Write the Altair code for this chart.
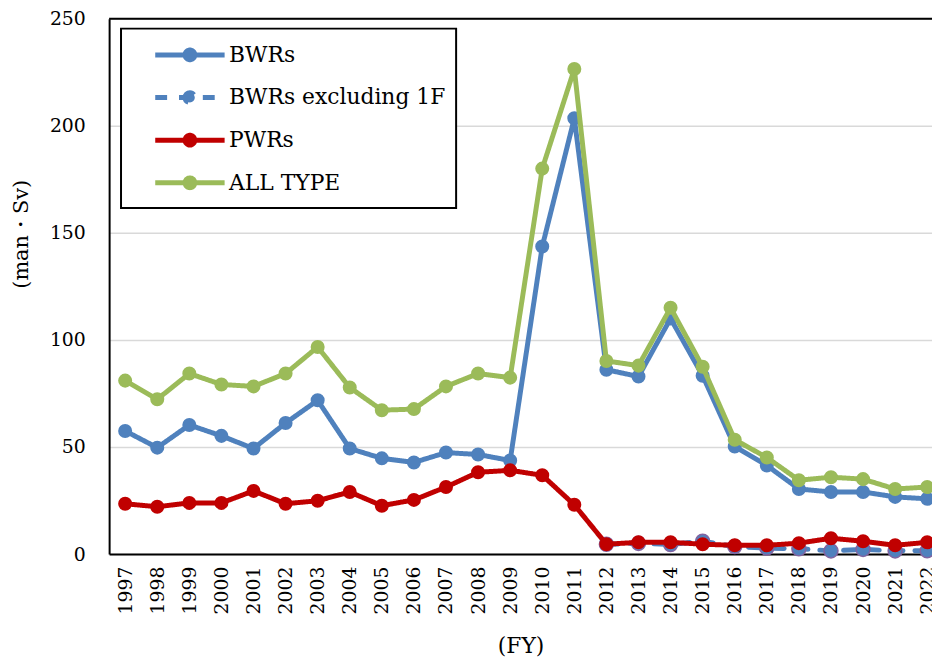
import altair as alt
import pandas as pd

years = list(range(1997, 2023))
bwrs = [57.5, 49.7, 60.3, 55.2, 49.3, 61.2, 71.8, 49.3, 44.7, 42.8, 47.4, 46.5, 43.7,
        143.6, 203.5, 86.1, 82.9, 110.0, 83.3, 50.2, 41.4, 30.4, 29.0, 29.0, 26.7, 25.8]
pwrs = [23.5, 22.1, 23.9, 23.9, 29.5, 23.5, 24.9, 29.0, 22.6, 25.3, 31.3, 38.2, 39.1,
        36.8, 23.0, 4.6, 5.5, 5.5, 4.6, 4.1, 4.1, 5.1, 7.4, 6.0, 4.1, 5.5]
all_type = [81.0, 72.3, 84.3, 79.2, 78.3, 84.3, 96.7, 77.8, 67.2, 67.7, 78.3, 84.3, 82.4,
            180.0, 226.5, 90.2, 88.0, 115.0, 87.5, 53.4, 45.1, 34.5, 35.9, 35.0, 30.4, 31.3]
excl_years = list(range(2012, 2023))
bwrs_excl = [4.6, 5.0, 4.5, 6.0, 3.5, 2.8, 2.5, 1.5, 2.2, 1.5, 1.6]

series_names = ["BWRs", "BWRs excluding 1F", "PWRs", "ALL TYPE"]
colors = ["#4f81bd", "#4f81bd", "#c00000", "#9bbb59"]
dashes = [[1, 0], [12, 12], [1, 0], [1, 0]]
y_ticks = [0, 50, 100, 150, 200, 250]

rows = []
for yr, v in zip(years, bwrs):
    rows.append({"year": yr, "value": v, "series": "BWRs"})
for yr, v in zip(excl_years, bwrs_excl):
    rows.append({"year": yr, "value": v, "series": "BWRs excluding 1F"})
for yr, v in zip(years, pwrs):
    rows.append({"year": yr, "value": v, "series": "PWRs"})
for yr, v in zip(years, all_type):
    rows.append({"year": yr, "value": v, "series": "ALL TYPE"})
df = pd.DataFrame(rows)

FONT = "DejaVu Serif"
W, H = 830, 540
STEP = 32.36

sym_path = ("M-2.5,0L2.5,0"
            "M-0.35,0A0.35,0.35,0,1,1,0.35,0A0.35,0.35,0,1,1,-0.35,0"
            "M-0.12,0A0.12,0.12,0,1,1,0.12,0A0.12,0.12,0,1,1,-0.12,0")

leg = alt.Legend(title=None, orient="none", legendX=12, legendY=10,
                 symbolType=sym_path, symbolSize=784, symbolStrokeWidth=5,
                 labelFont=FONT, labelFontSize=22, labelColor="black",
                 labelOffset=23, symbolOffset=43, rowPadding=11, padding=10,
                 labelExpr="datum.label + '\u2003'",
                 strokeColor="black", fillColor="white", labelLimit=400)

x_enc = alt.X("year:Q",
              scale=alt.Scale(domain=[1996.5, 1996.5 + W / STEP], nice=False, zero=False),
              axis=alt.Axis(values=years, format="d", labelAngle=270, ticks=False,
                            labelPadding=12, grid=False, domainColor="black", domainWidth=2,
                            labelFont=FONT, labelFontSize=19, labelColor="black",
                            labelOverlap=False, labelBound=False, labelFlush=False,
                            title="(FY)", titleFont=FONT, titleFontSize=22,
                            titleFontWeight="normal", titleColor="black",
                            titleY=92, titleBaseline="middle"))
y_enc = alt.Y("value:Q", scale=alt.Scale(domain=[0, 250], nice=False),
              axis=alt.Axis(values=y_ticks, ticks=False, labelPadding=24, grid=True,
                            gridColor="#d9d9d9", gridWidth=1.5, domainColor="black",
                            domainWidth=2, labelFont=FONT, labelFontSize=19,
                            labelColor="black", title="(man・Sv)", titleFont=FONT,
                            titleFontSize=21, titleFontWeight="normal", titleColor="black",
                            titleX=-88, titleY=217, titleAngle=270, titleAlign="center",
                            titleBaseline="middle"))
color_enc = alt.Color("series:N", scale=alt.Scale(domain=series_names, range=colors), legend=leg)
dash_enc = alt.StrokeDash("series:N", scale=alt.Scale(domain=series_names, range=dashes), legend=leg)

base = alt.Chart(df)
layers = []
for name in series_names:
    b = base.transform_filter(alt.datum.series == name)
    layers.append(b.mark_line(strokeWidth=5, strokeCap="round").encode(
        x=x_enc, y=y_enc, color=color_enc, strokeDash=dash_enc))
    if name == "BWRs excluding 1F":
        pt = b.mark_circle(size=200, opacity=1, stroke="#8064a2", strokeWidth=1.5)
    else:
        pt = b.mark_circle(size=200, opacity=1)
    layers.append(pt.encode(x=x_enc, y=y_enc, color=color_enc))

top_border = alt.Chart(pd.DataFrame({"a": [0]})).mark_rule(color="black", strokeWidth=2).encode(
    x=alt.value(0), x2=alt.value(W), y=alt.value(0))
layers.append(top_border)

chart = alt.layer(*layers).properties(
    width=W, height=H,
    autosize=alt.AutoSizeParams(type="none"),
    padding={"left": 102, "top": 8, "right": 0, "bottom": 101},
).configure_view(stroke=None).configure_legend(strokeWidth=2)

chart.save("out.html", embed_options={"renderer": "svg", "actions": False})
